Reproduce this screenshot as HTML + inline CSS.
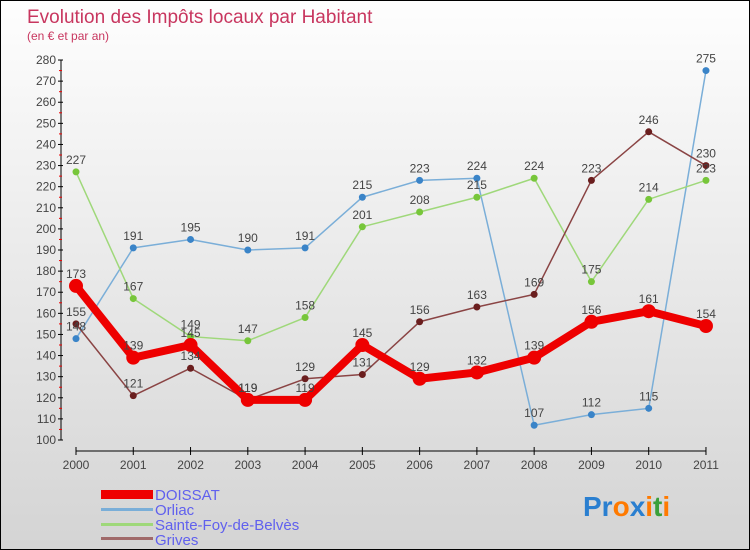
<!DOCTYPE html>
<html><head><meta charset="utf-8"><style>
body{margin:0}
#wrap{position:relative;width:748px;height:548px;border:1px solid #000;background:linear-gradient(#fefefe,#d4d4d4);font-family:"Liberation Sans",sans-serif;overflow:hidden}
</style></head><body>
<div id="wrap">
<svg id="chart" width="748" height="548">
<text x="26" y="22" font-size="19" fill="#c8365f">Evolution des Impôts locaux par Habitant</text>
<text x="26" y="39" font-size="12" fill="#c8365f">(en € et par an)</text>
<g id="axes"></g><g id="series"></g><g id="labels"></g>
<g>
<rect x="100" y="489" width="52" height="9" fill="#e00"/>
<text x="154" y="499" font-size="15" fill="#6060ee">DOISSAT</text>
<rect x="100" y="507" width="52" height="3" fill="#7aaed8"/>
<text x="154" y="514" font-size="15" fill="#6060ee">Orliac</text>
<rect x="100" y="522" width="52" height="3" fill="#9fd87a"/>
<text x="154" y="529" font-size="15" fill="#6060ee">Sainte-Foy-de-Belvès</text>
<rect x="100" y="536" width="52" height="3" fill="#a06a6a"/>
<text x="154" y="544" font-size="15" fill="#6060ee">Grives</text>
</g>
<text x="582" y="515" font-size="28" font-weight="bold"><tspan fill="#2a7fd0">Pr</tspan><tspan fill="#ff7a00">o</tspan><tspan fill="#2a7fd0">x</tspan><tspan fill="#ff7a00">i</tspan><tspan fill="#3aa03a">t</tspan><tspan fill="#ff7a00">i</tspan></text>
</svg>
</div>
<script>
const years=[2000,2001,2002,2003,2004,2005,2006,2007,2008,2009,2010,2011];
const doissat=[173,139,145,119,119,145,129,132,139,156,161,154];
const orliac=[148,191,195,190,191,215,223,224,107,112,115,275];
const sainteFoy=[227,167,149,147,158,201,208,215,224,175,214,223];
const grives=[155,121,134,119,129,131,156,163,169,223,246,230];
const yTicks=[100,110,120,130,140,150,160,170,180,190,200,210,220,230,240,250,260,270,280];
const NS="http://www.w3.org/2000/svg";
function xs(i){return 75+i*57.27;}
function ys(v){return 439-(v-100)*2.111;}
function mk(tag,attrs,parent){const e=document.createElementNS(NS,tag);for(const k in attrs)e.setAttribute(k,attrs[k]);parent.appendChild(e);return e;}
const ax=document.getElementById('axes'),se=document.getElementById('series'),lb=document.getElementById('labels');
const yl=mk('line',{x1:60,y1:ys(280),x2:60,y2:ys(100),stroke:'#000'},ax);


yTicks.forEach(t=>{
  mk('line',{x1:57,y1:ys(t),x2:62,y2:ys(t),stroke:'#000'},ax);
  if(t<280) mk('line',{x1:58,y1:ys(t+5),x2:61,y2:ys(t+5),stroke:'#e00'},ax);
  const tx=mk('text',{x:55,y:ys(t)+4,'font-size':12,'text-anchor':'end',fill:'#444'},ax);tx.textContent=t;
  
  
});
const xl=mk('line',{x1:xs(0),y1:450,x2:xs(11),y2:450,stroke:'#000'},ax);


years.forEach((y,i)=>{
  mk('line',{x1:xs(i),y1:446,x2:xs(i),y2:454,stroke:'#000'},ax);
  const tx=mk('text',{x:xs(i),y:468,'font-size':12,'text-anchor':'middle',fill:'#444'},ax);tx.textContent=y;
  
  
});
function draw(data,color,dot,w,r,name){
  const pts=data.map((v,i)=>xs(i)+','+ys(v)).join(' ');
  const pl=mk('polyline',{points:pts,fill:'none',stroke:color,'stroke-width':w,'stroke-linejoin':'round'},se);
  
  
  data.forEach((v,i)=>{
    const c=mk('circle',{cx:xs(i),cy:ys(v),r:r,fill:dot},se);
    
    
    const t=mk('text',{x:xs(i),y:ys(v)-8,'font-size':12,'text-anchor':'middle',fill:'#444'},lb);t.textContent=v;
    
    
  });
}
draw(orliac,'#7aaed8','#3a84c8',1.5,3.5,'orliac');
draw(sainteFoy,'#9fd87a','#77c63a',1.5,3.5,'sainte-foy');
draw(grives,'#8a4444','#6a1e1e',1.5,3.5,'grives');
draw(doissat,'#ee0000','#ee0000',8,7,'doissat');
</script>
</body></html>
